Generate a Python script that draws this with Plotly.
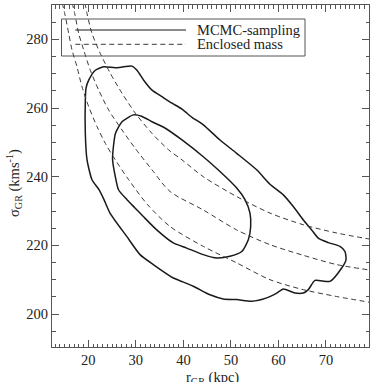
import plotly.graph_objects as go

# ---- data ----
outer_r = [22.25, 20.78, 19.73, 19.37, 19.37, 19.52, 20.08, 21.47, 23.24, 25.68, 27.45, 29.19, 30.24,
           31.65, 33.40, 35.50, 37.61, 39.70, 41.80, 44.19, 47.70, 51.22, 55.42, 58.22, 61.02, 63.12,
           65.23, 66.99, 68.38, 70.48, 72.94, 74.00, 74.21, 73.30, 70.84, 67.69, 66.28, 65.23, 63.48,
           61.02, 59.63, 57.53, 54.37, 51.22, 48.40, 45.60, 42.09, 39.29, 37.88, 33.67, 30.88, 28.08,
           24.56, 23.30, 22.25]
outer_sigma = [236.2, 239.1, 244.9, 252.6, 262.3, 265.8, 268.1, 271.0, 272.0, 271.7, 272.0, 272.2, 271.0,
               268.1, 265.2, 263.3, 261.4, 259.7, 257.3, 255.1, 250.7, 246.8, 242.0, 237.8, 234.7, 231.3,
               227.4, 224.5, 222.1, 220.8, 219.7, 218.2, 215.8, 213.4, 209.5, 209.8, 207.1, 206.1, 206.1,
               207.3, 206.1, 204.7, 203.7, 204.2, 204.4, 205.6, 208.1, 209.7, 210.5, 214.4, 217.3, 222.6,
               229.4, 233.3, 236.2]

inner_r = [25.10, 25.30, 25.70, 27.09, 29.50, 31.20, 33.40, 36.20, 39.71, 44.19, 47.70, 51.22, 52.96,
           54.01, 54.16, 53.66, 52.27, 49.81, 47.01, 44.19, 40.70, 37.88, 34.39, 31.57, 29.82, 28.14,
           26.35, 25.68, 25.10]
inner_sigma = [245.0, 249.0, 252.6, 256.0, 258.0, 257.6, 256.0, 254.1, 250.7, 245.8, 241.5, 236.7, 233.3,
               229.4, 225.5, 221.6, 218.2, 216.8, 216.3, 217.3, 219.2, 220.7, 224.5, 228.4, 230.9, 233.3,
               236.2, 240.0, 245.0]

massA_r = [14.50, 15.04, 15.88, 16.57, 17.62, 18.67, 20.08, 21.83, 23.58, 25.68, 28.50, 32.50, 37.19,
           44.19, 51.22, 58.22, 65.23, 72.25, 79.30]
massA_sigma = [290.6, 287.5, 281.7, 276.9, 272.0, 266.2, 260.4, 254.6, 249.7, 244.9, 239.1, 231.8, 225.5,
               219.7, 214.9, 210.0, 207.1, 205.1, 203.4]

massB_r = [16.60, 17.14, 17.98, 19.03, 20.42, 22.19, 24.29, 27.09, 29.89, 33.40, 37.19, 44.19, 51.22,
           58.22, 65.23, 72.25, 79.30]
massB_sigma = [290.6, 287.5, 281.7, 276.9, 271.0, 265.2, 259.4, 253.6, 248.2, 242.0, 235.7, 230.3, 224.5,
               220.2, 217.1, 214.4, 212.8]

massC_r = [19.30, 19.73, 20.78, 22.52, 24.63, 27.09, 29.89, 33.40, 36.91, 39.71, 44.19, 51.22, 58.22,
           65.23, 72.25, 79.30]
massC_sigma = [290.6, 287.5, 281.7, 275.9, 270.1, 264.3, 258.5, 252.6, 247.8, 244.9, 240.0, 234.2, 229.4,
               226.0, 223.6, 221.8]

x_range = [12.36, 79.05]
y_range = [190.4, 290.0]
legend_labels = ["MCMC-sampling", "Enclosed mass"]

FONT = "'Liberation Serif', 'Times New Roman', 'DejaVu Serif', serif"
SOLID = "#1a1a1a"
DASHC = "#3a3a3a"

fig = go.Figure()
for r, s in [(outer_r, outer_sigma), (inner_r, inner_sigma)]:
    fig.add_trace(go.Scatter(x=r, y=s, mode="lines", line=dict(color=SOLID, width=1.5, shape="spline", smoothing=0.6),
                             showlegend=False, hoverinfo="skip"))
for r, s in [(massA_r, massA_sigma), (massB_r, massB_sigma), (massC_r, massC_sigma)]:
    fig.add_trace(go.Scatter(x=r, y=s, mode="lines", line=dict(color=DASHC, width=1, dash="5px,3.5px", shape="spline", smoothing=0.8),
                             showlegend=False, hoverinfo="skip"))

axis_common = dict(showline=True, linecolor="#555", linewidth=1, mirror="allticks", ticks="inside",
                   ticklen=7, tickcolor="#555", tickwidth=1, showgrid=False, zeroline=False,
                   tickfont=dict(family=FONT, size=14.5, color="#222"))
fig.update_xaxes(range=x_range, tick0=0, dtick=10, minor=dict(dtick=1, ticks="inside", ticklen=3.5, tickcolor="#555"),
                 **axis_common)
fig.update_yaxes(range=y_range, tick0=0, dtick=20, minor=dict(dtick=5, ticks="inside", ticklen=3.5, tickcolor="#555"),
                 **axis_common)

L, R, T, B = 52, 4, 5, 35
W, H = 373, 382
pw, ph = W - L - R, H - T - B
def px(xp):
    return (xp - L) / pw
def py(yp):
    return (H - B - yp) / ph

# manual legend
fig.add_shape(type="rect", xref="paper", yref="paper", x0=px(61.5), x1=px(305), y0=py(56), y1=py(19),
              line=dict(color="#555", width=1), fillcolor="rgba(0,0,0,0)")
fig.add_shape(type="line", xref="paper", yref="paper", x0=px(75.3), x1=px(186), y0=py(30), y1=py(30),
              line=dict(color=SOLID, width=1.2))
fig.add_shape(type="line", xref="paper", yref="paper", x0=px(75.3), x1=px(186), y0=py(44.3), y1=py(44.3),
              line=dict(color=DASHC, width=1, dash="5px,3.5px"))
for lab, yy in zip(legend_labels, [30, 44.3]):
    fig.add_annotation(text=lab, xref="paper", yref="paper", x=px(195), y=py(yy), xanchor="left", yanchor="middle",
                       showarrow=False, font=dict(family=FONT, size=14.5, color="#222"))

# axis titles
fig.add_annotation(text="σ<sub>GR</sub> (kms<sup>-1</sup>)", xref="paper", yref="paper", x=px(14), y=py(183),
                   xanchor="center", yanchor="middle", textangle=-90, showarrow=False,
                   font=dict(family=FONT, size=14.5, color="#222"))
fig.add_annotation(text="r<sub>GR</sub> (kpc)", xref="paper", yref="paper", x=px(212), y=py(367),
                   xanchor="center", yanchor="top", showarrow=False,
                   font=dict(family=FONT, size=14.5, color="#222"))

fig.update_layout(width=W, height=H, margin=dict(l=L, r=R, t=T, b=B), paper_bgcolor="white",
                  plot_bgcolor="white", showlegend=False)
fig.write_html("out.html")
